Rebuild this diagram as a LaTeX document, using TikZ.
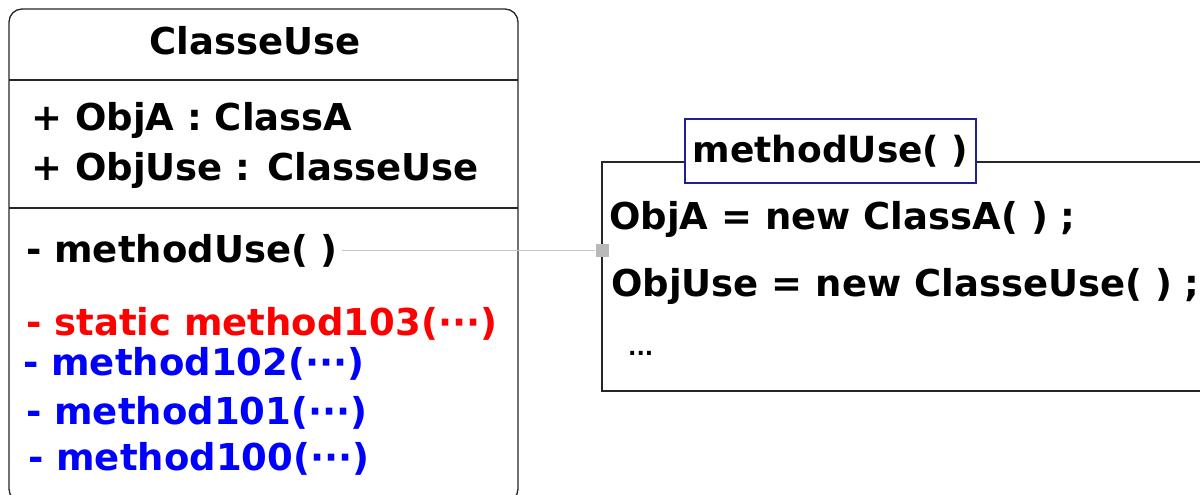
\documentclass[tikz,border=0pt]{standalone}
\usepackage{fontspec}
\setmainfont{DejaVu Sans}
\definecolor{navyb}{RGB}{32,32,150}
\definecolor{conn}{RGB}{200,200,200}
\definecolor{sqg}{RGB}{185,185,185}
\begin{document}
\begin{tikzpicture}[x=1pt,y=-1pt,
  txt/.style={anchor=base west, inner sep=0pt, font=\fontsize{37}{40}\selectfont\bfseries},
  frame/.style={line width=1.3pt, black!85},
  divider/.style={line width=1.3pt, black!85}]
\useasboundingbox (0,0) rectangle (1200,495);
\clip (0,0) rectangle (1200,495);
\fill[white] (0,0) rectangle (1200,495);
% class box
\draw[frame, rounded corners=13pt] (9,9) rectangle (518,502);
\draw[divider] (9,80) -- (518,80);
\draw[divider] (9,208) -- (518,208);
\node[txt, anchor=base] (cname) at (255,55) {ClasseUse};
\node[txt] (attA) at (31,130) {+ ObjA : ClassA};
\node[txt] (attU) at (31,180) {+ ObjUse : ClasseUse};
\node[txt] (mUse) at (26,262) {- methodUse( )};
\node[txt, text=red] (m103) at (26,335) {- static method103(···)};
\node[txt, text=blue] (m102) at (23,375) {- method102(···)};
\node[txt, text=blue] (m101) at (26,424) {- method101(···)};
\node[txt, text=blue] (m100) at (28,470) {- method100(···)};
% method frame
\coordinate (ftl) at (602,162);
\coordinate (fbl) at (602,391);
\coordinate (fbr) at (1200,391);
\coordinate (ftr) at (1200,162);
\node[draw=navyb, line width=1.1pt, minimum width=291pt, minimum height=64pt, inner sep=0pt,
      font=\fontsize{36}{40}\selectfont\bfseries] (title) at (830.5,151) {methodUse( )};
\draw[frame] (title.west |- ftl) -- (ftl) -- (fbl) -- (fbr);
\draw[frame] (title.east |- ftl) -- (ftr);
\node[txt] (l1) at (609,229) {ObjA = new ClassA( ) ;};
\node[txt] (l2) at (611,296) {ObjUse = new ClasseUse( ) ;};
\node[anchor=base west, inner sep=0pt, font=\fontsize{22}{24}\selectfont\bfseries] (dots) at (628,355) {...};
% connector
\node[fill=sqg, minimum size=13pt, inner sep=0pt] (sq) at (mUse.east -| ftl) {};
\draw[conn, line width=1.5pt] ([xshift=4pt]mUse.east) -- (sq.west);
\end{tikzpicture}
\end{document}
